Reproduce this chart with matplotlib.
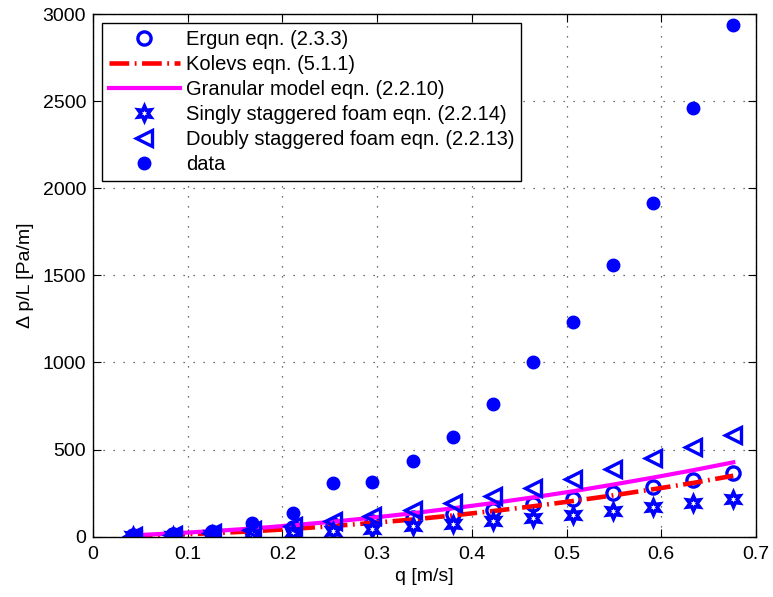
import matplotlib
matplotlib.use("Agg")
from matplotlib import pyplot as plt
from matplotlib.markers import MarkerStyle

plt.rcParams['font.family'] = ['Liberation Sans', 'DejaVu Sans']

q = [0.042, 0.084, 0.126, 0.168, 0.211, 0.253, 0.295, 0.338,
     0.380, 0.422, 0.465, 0.507, 0.549, 0.591, 0.634, 0.676]

ergun = [5, 12, 22, 34, 48, 65, 84, 106, 130, 156, 186, 217, 250, 286, 325, 366]
kolevs = [4, 11, 20, 31, 45, 61, 79, 99, 122, 147, 175, 205, 237, 272, 309, 350]
granular = [8, 19, 32, 47, 66, 86, 109, 135, 163, 193, 226, 261, 299, 339, 382, 427]
singly = [2, 5, 10, 17, 25, 35, 46, 59, 73, 89, 106, 125, 146, 168, 192, 217]
doubly = [4, 12, 24, 41, 62, 88, 117, 152, 191, 234, 282, 334, 390, 451, 517, 586]
data = [5, 15, 35, 78, 134, 308, 312, 437, 571, 759, 1000, 1230, 1557, 1914, 2460, 2937]

blue = (0, 0, 1)
star = MarkerStyle((6, 1, 0), joinstyle='miter')

fig = plt.figure(figsize=(7.73, 5.97), dpi=100)
ax = fig.add_axes([0.1203, 0.101, 0.8577, 0.8755])

ax.plot(q, ergun, linestyle='none', marker='o', markersize=9.5, markeredgewidth=2.4,
        markerfacecolor='none', markeredgecolor=blue, label='Ergun eqn. (2.3.3)')
ax.plot(q, kolevs, color='red', linestyle=(0, (4.3, 1.2, 0.4, 1.2)), linewidth=3.3,
        label='Kolevs eqn. (5.1.1)')
ax.plot(q, granular, color='magenta', linewidth=3, label='Granular model eqn. (2.2.10)')
ax.plot(q, singly, linestyle='none', marker=star, markersize=10.5, markeredgewidth=2.6,
        markerfacecolor='white', markeredgecolor=blue, label='Singly staggered foam eqn. (2.2.14)')
ax.plot(q, doubly, linestyle='none', marker='<', markersize=11, markeredgewidth=2.4,
        markerfacecolor='none', markeredgecolor=blue, label='Doubly staggered foam eqn. (2.2.13)')
ax.plot(q, data, linestyle='none', marker='o', markersize=9,
        markerfacecolor=blue, markeredgecolor=blue, label='data')

ax.set_xlim(0, 0.7)
ax.set_ylim(0, 3000)
ax.set_xticks([0, 0.1, 0.2, 0.3, 0.4, 0.5, 0.6, 0.7])
ax.set_xticklabels(['0', '0.1', '0.2', '0.3', '0.4', '0.5', '0.6', '0.7'])
ax.set_yticks(range(0, 3001, 500))
ax.tick_params(direction='in', top=True, right=True, labelsize=14, length=6)
ax.tick_params(axis='x', pad=7)
ax.tick_params(axis='y', pad=5)
ax.grid(True, linestyle=(0, (1, 7)), color='0.25', linewidth=0.9)
for s in ax.spines.values():
    s.set_linewidth(1)

ax.set_xlabel('q [m/s]', fontsize=14, labelpad=3)
ax.set_ylabel('Δ p/L [Pa/m]', fontsize=14, labelpad=6)

leg = ax.legend(loc='upper left', fontsize=14.5, fancybox=False, framealpha=1,
                edgecolor='black', borderaxespad=0.45, handlelength=3.5,
                handletextpad=0.3, labelspacing=0.3, borderpad=0.35)
leg.get_frame().set_linewidth(1)

plt.savefig('out.png', dpi=100)
